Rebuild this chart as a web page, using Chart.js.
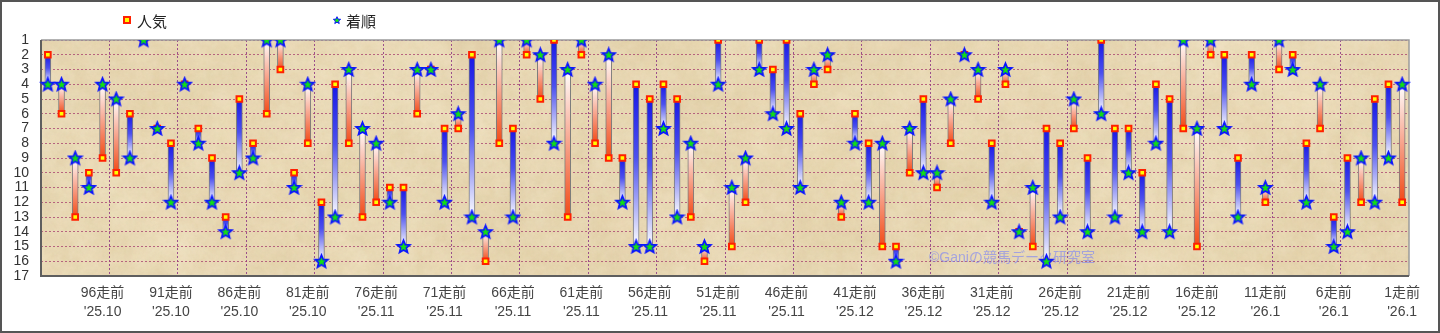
<!DOCTYPE html>
<html lang="ja">
<head>
<meta charset="utf-8">
<title>人気・着順</title>
<script src="https://cdn.jsdelivr.net/npm/chart.js@4.4.1/dist/chart.umd.min.js"></script>
<style>
    html, body { margin: 0; padding: 0; background: #fff; }
    #wrap { position: relative; width: 1440px; height: 333px; }
    #wrap canvas#chart { position: absolute; left: 0; top: 0; }
    .legend-item {
        position: absolute; top: 10px; height: 20px;
        display: flex; align-items: center;
        font: 15px 'Noto Sans CJK JP', sans-serif; color: #222;
    }
    .legend-rect {
        width: 4px; height: 4px; margin-right: 6px;
        background: #ffff00; border: 2px solid #ff2000;
    }
    .legend-star { margin-right: 4px; }
</style>
</head>
<body>
<div id="wrap">
    <canvas id="chart" width="1440" height="333"></canvas>
    <div class="legend-item" style="left:123px"><span class="legend-rect"></span>人気</div>
    <div class="legend-item" style="left:332px"><canvas class="legend-star" id="legendStar" width="10" height="10"></canvas>着順</div>
</div>
<script>
var HorseRace = HorseRace || {};

// race labels, oldest first: 100走前 ... 1走前
var categories = [];
for (var n = 100; n >= 1; n--) {
    categories.push(n + '走前');
}

// month shown under every 5th race label (96走前, 91走前, ... 1走前)
var tickMonths = [
    "'25.10", "'25.10", "'25.10", "'25.10",
    "'25.11", "'25.11", "'25.11", "'25.11", "'25.11", "'25.11", "'25.11",
    "'25.12", "'25.12", "'25.12", "'25.12", "'25.12", "'25.12",
    "'26.1", "'26.1", "'26.1"
];

var yTicks = [1, 2, 3, 4, 5, 6, 7, 8, 9, 10, 11, 12, 13, 14, 15, 16, 17];

// 人気 (popularity rank) per race
var popularity = [
    2, 6, 13, 10, 9, 10, 6, 1, 7, 8,
    4, 7, 9, 13, 5, 8, 6, 3, 10, 8,
    12, 4, 8, 13, 12, 11, 11, 6, 3, 7,
    7, 2, 16, 8, 7, 2, 5, 1, 13, 2,
    8, 9, 9, 4, 5, 4, 5, 13, 16, 1,
    15, 12, 1, 3, 1, 6, 4, 3, 13, 6,
    8, 15, 15, 10, 5, 11, 8, 2, 5, 8,
    4, 14, 15, 7, 8, 7, 9, 1, 7, 7,
    10, 4, 5, 7, 15, 2, 2, 9, 2, 12,
    3, 2, 8, 7, 13, 9, 12, 5, 4, 12
];

// 着順 (finishing position) per race
var finish = [
    4, 4, 9, 11, 4, 5, 9, 1, 7, 12,
    4, 8, 12, 14, 10, 9, 1, 1, 11, 4,
    16, 13, 3, 7, 8, 12, 15, 3, 3, 12,
    6, 13, 14, 1, 13, 1, 2, 8, 3, 1,
    4, 2, 12, 15, 15, 7, 13, 8, 15, 4,
    11, 9, 3, 6, 7, 11, 3, 2, 12, 8,
    12, 8, 16, 7, 10, 10, 5, 2, 3, 12,
    3, 14, 11, 16, 13, 5, 14, 6, 13, 10,
    14, 8, 14, 1, 7, 1, 7, 13, 4, 11,
    1, 3, 12, 4, 15, 14, 9, 12, 9, 4
];

HorseRace.Chart = (function () {
    'use strict';

    var FONT = "'Liberation Sans', 'Noto Sans CJK JP', sans-serif";
    var BLUE = ['#1818e6', '#4c50ee'];
    var RED = ['#f24a16', '#f79a80'];

    var starPath = function (g, cx, cy, outer, inner) {
        g.beginPath();
        for (var k = 0; k < 10; k++) {
            var rad = k % 2 ? inner : outer;
            var a = -Math.PI / 2 + k * Math.PI / 5;
            g.lineTo(cx + rad * Math.cos(a), cy + rad * Math.sin(a));
        }
        g.closePath();
    };

    var makeStar = function (canvas, outer, inner, lineWidth) {
        var g = canvas.getContext('2d');
        starPath(g, canvas.width / 2, canvas.height / 2 + 0.5, outer, inner);
        g.fillStyle = '#12e012';
        g.fill();
        g.lineWidth = lineWidth;
        g.strokeStyle = '#0a14ff';
        g.stroke();
        return canvas;
    };

    // beige paper texture for the plot area (seeded, so it is the same every time)
    var makeParchment = function (w, h) {
        var seed = 24680;
        var rnd = function () {
            seed = (seed * 16807) % 2147483647;
            return seed / 2147483647;
        };
        var c = document.createElement('canvas');
        c.width = w;
        c.height = h;
        var g = c.getContext('2d');
        g.fillStyle = '#e9d8b3';
        g.fillRect(0, 0, w, h);
        [[70, 0.22], [20, 0.18], [6, 0.12], [2, 0.08]].forEach(function (layer) {
            var cell = layer[0];
            var s = document.createElement('canvas');
            s.width = Math.ceil(w / cell) + 2;
            s.height = Math.ceil(h / cell) + 2;
            var sg = s.getContext('2d');
            var img = sg.createImageData(s.width, s.height);
            for (var p = 0; p < img.data.length; p += 4) {
                var v = rnd();
                var light = v > 0.45;
                img.data[p] = light ? 248 : 212;
                img.data[p + 1] = light ? 238 : 192;
                img.data[p + 2] = light ? 214 : 148;
                img.data[p + 3] = Math.abs(v - 0.45) * 2 * 255 * layer[1];
            }
            sg.putImageData(img, 0, 0);
            g.imageSmoothingEnabled = true;
            g.drawImage(s, -cell / 2, -cell / 2, s.width * cell, s.height * cell);
        });
        return c;
    };

    var decorPlugin = {
        id: 'decor',
        beforeDraw: function (chart) {
            var a = chart.chartArea;
            var ctx = chart.ctx;
            if (!chart.$paper || chart.$paper.width !== Math.round(a.width)) {
                chart.$paper = makeParchment(Math.round(a.width), Math.round(a.height));
            }
            ctx.save();
            ctx.drawImage(chart.$paper, a.left, a.top);
            ctx.restore();
        },
        beforeDatasetsDraw: function (chart) {
            var a = chart.chartArea;
            var ctx = chart.ctx;
            ctx.save();
            // watermark
            ctx.font = '14px ' + FONT;
            ctx.fillStyle = 'rgba(110, 120, 255, 0.55)';
            ctx.textBaseline = 'middle';
            ctx.fillText('©Ganiの競馬データ研究室', 929, 258);
            // plot frame
            ctx.lineWidth = 1.5;
            ctx.strokeStyle = '#9a9a9a';
            ctx.beginPath();
            ctx.moveTo(a.left, a.top);
            ctx.lineTo(a.right, a.top);
            ctx.lineTo(a.right, a.bottom);
            ctx.stroke();
            ctx.lineWidth = 2;
            ctx.strokeStyle = '#5e5e5e';
            ctx.beginPath();
            ctx.moveTo(a.left, a.top);
            ctx.lineTo(a.left, a.bottom);
            ctx.lineTo(a.right, a.bottom);
            ctx.stroke();
            ctx.restore();
        },
        afterDraw: function (chart) {
            var ctx = chart.ctx;
            ctx.save();
            ctx.lineWidth = 2;
            ctx.strokeStyle = '#555';
            ctx.strokeRect(1, 1, chart.width - 2, chart.height - 2);
            ctx.restore();
        }
    };

    // bar colour: strong at the 人気 end, fading to white at the 着順 end
    var barGradient = function (context) {
        var chart = context.chart;
        var i = context.dataIndex;
        if (!chart.chartArea || i === undefined) {
            return BLUE[0];
        }
        var y = chart.scales.y;
        var yp = y.getPixelForValue(popularity[i]);
        var yf = y.getPixelForValue(finish[i]);
        var base = popularity[i] < finish[i] ? BLUE : RED;
        if (yp === yf) {
            return base[0];
        }
        var g = chart.ctx.createLinearGradient(0, yp, 0, yf);
        g.addColorStop(0, base[0]);
        g.addColorStop(0.45, base[1]);
        g.addColorStop(1, '#ffffff');
        return g;
    };

    var load = function (selector) {
        var star = document.createElement('canvas');
        star.width = 17;
        star.height = 17;
        makeStar(star, 6.8, 3.0, 1.7);
        makeStar(document.getElementById('legendStar'), 3.8, 1.7, 1);

        var context = document.getElementById(selector);
        return new Chart(context, {
            type: 'bar',
            data: {
                labels: categories,
                datasets: [{
                    type: 'line',
                    label: '着順',
                    data: finish,
                    showLine: false,
                    pointStyle: star,
                    pointRadius: 7,
                    order: 1
                }, {
                    type: 'line',
                    label: '人気',
                    data: popularity,
                    showLine: false,
                    pointStyle: 'rect',
                    pointRadius: 4,
                    pointBorderWidth: 2,
                    pointBackgroundColor: '#ffff00',
                    pointBorderColor: '#ff2000',
                    order: 2
                }, {
                    label: 'range',
                    data: popularity.map(function (p, i) {
                        return [p, finish[i]];
                    }),
                    backgroundColor: barGradient,
                    borderColor: '#7c7c7c',
                    borderWidth: 1,
                    borderSkipped: false,
                    barThickness: 6,
                    order: 3
                }]
            },
            options: {
                responsive: false,
                animation: false,
                events: [],
                layout: { padding: { top: 40, right: 31, left: 0, bottom: 0 } },
                plugins: {
                    legend: { display: false },
                    tooltip: { enabled: false }
                },
                scales: {
                    x: {
                        offset: true,
                        grid: {
                            offset: true,
                            drawTicks: false,
                            lineWidth: 1,
                            color: function (c) {
                                return (c.index > 0 && c.index % 5 === 0) ? 'rgba(135, 45, 130, 0.8)' : 'rgba(0,0,0,0)';
                            }
                        },
                        border: { display: false, dash: [2, 2] },
                        ticks: {
                            autoSkip: false,
                            maxRotation: 0,
                            minRotation: 0,
                            padding: 8,
                            color: '#444',
                            font: { family: FONT, size: 14, lineHeight: 1.35 },
                            callback: function (value, index) {
                                if (index % 5 !== 4) {
                                    return '';
                                }
                                return [categories[index], tickMonths[(index - 4) / 5]];
                            }
                        },
                        afterFit: function (scale) {
                            scale.height = 57;
                        }
                    },
                    y: {
                        reverse: true,
                        min: yTicks[0],
                        max: yTicks[yTicks.length - 1],
                        afterBuildTicks: function (scale) {
                            scale.ticks = yTicks.map(function (v) {
                                return { value: v };
                            });
                        },
                        grid: {
                            drawTicks: false,
                            lineWidth: 1,
                            color: 'rgba(165, 60, 110, 0.75)'
                        },
                        border: { display: false, dash: [2, 2] },
                        ticks: {
                            autoSkip: false,
                            padding: 12,
                            color: '#333',
                            font: { family: FONT, size: 14 }
                        },
                        afterFit: function (scale) {
                            scale.width = 41;
                        }
                    }
                }
            },
            plugins: [decorPlugin]
        });
    };

    return {
        load: load
    };
})();

HorseRace.Chart.load('chart');
</script>
</body>
</html>
